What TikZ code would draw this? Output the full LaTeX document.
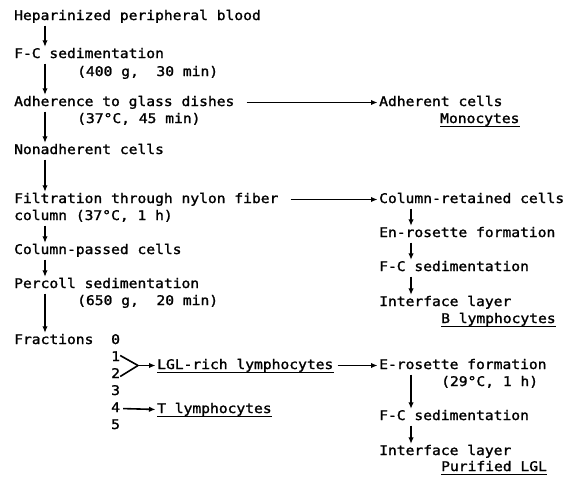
\documentclass[tikz,border=0pt]{standalone}
\usepackage{fontspec}
\newfontfamily\labfont[FakeStretch=1.1,FakeBold=1.5]{DejaVu Sans Mono}
\usetikzlibrary{arrows.meta}
\tikzset{
    % one line of text, placed on its baseline
    steptext/.style={
        inner sep=0pt,
        anchor=base west,
        text height=9.5pt,
        text depth=2.5pt,
        font=\labfont\fontsize{13.3}{15}\selectfont
    },
    % arrow styles
    flowarrow/.style={
        -{Latex[length=6.5pt,width=5.5pt]},
        line width=1.6pt,
        shorten <=3pt,
        shorten >=1.5pt
    },
    joinline/.style={
        line width=1.6pt
    },
    uline/.style={
        line width=1.6pt
    }
}

\begin{document}
\begin{tikzpicture}[x=1pt,y=-1pt]
    \useasboundingbox (0,0) rectangle (565,479);

    % Main line of the separation
    \node[steptext] (blood) at (14,20) {Heparinized peripheral blood};
    \node[steptext] (fcsedA) at (14,58) {F-C sedimentation};
    \node[steptext] (fcsedAcond) at (77,76) {(400 g,\ \ 30 min)};
    \node[steptext] (adhere) at (14,106) {Adherence to glass dishes};
    \node[steptext] (adhcond) at (77,123) {(37°C, 45 min)};
    \node[steptext] (nonadh) at (14,154) {Nonadherent cells};
    \node[steptext] (filt) at (14,203) {Filtration through nylon fiber};
    \node[steptext] (filtcond) at (14,220) {column (37°C, 1 h)};
    \node[steptext] (passed) at (14,254) {Column-passed cells};
    \node[steptext] (percoll) at (14,288) {Percoll sedimentation};
    \node[steptext] (percond) at (77,305) {(650 g,\ \ 20 min)};
    \node[steptext] (fract) at (14,344) {Fractions};

    % Fraction numbers
    \foreach \i/\y in {0/344,1/361,2/378,3/395,4/412,5/429}
        \node[steptext] (f\i) at (111,\y) {\i};

    \node[steptext] (lglrich) at (157,369) {LGL-rich lymphocytes};
    \node[steptext] (tlym) at (157,413) {T lymphocytes};

    % Right column
    \node[steptext] (adherent) at (379,106) {Adherent cells};
    \node[steptext] (mono) at (440,123) {Monocytes};
    \node[steptext] (retained) at (379,203) {Column-retained cells};
    \node[steptext] (enros) at (379,237) {En-rosette formation};
    \node[steptext] (fcsedB) at (379,271) {F-C sedimentation};
    \node[steptext] (ifaceB) at (379,306) {Interface layer};
    \node[steptext] (blym) at (441,323) {B lymphocytes};
    \node[steptext] (eros) at (379,369) {E-rosette formation};
    \node[steptext] (eroscond) at (441,386) {(29°C, 1 h)};
    \node[steptext] (fcsedC) at (379,420) {F-C sedimentation};
    \node[steptext] (ifaceC) at (379,455) {Interface layer};
    \node[steptext] (purified) at (441,471) {Purified LGL};

    % Underlined results
    \foreach \n in {mono,blym,lglrich,tlym,purified}
        \draw[uline] ([yshift=-3.5pt]\n.base west) -- ([yshift=-3.5pt]\n.base east);

    % Vertical arrows, left
    \draw[flowarrow] ([xshift=31pt]blood.south west) -- ([xshift=31pt]fcsedA.north west);
    \draw[flowarrow] ([xshift=31pt]fcsedA.south west) -- ([xshift=31pt]adhere.north west);
    \draw[flowarrow] ([xshift=31pt]adhere.south west) -- ([xshift=31pt]nonadh.north west);
    \draw[flowarrow] ([xshift=31pt]nonadh.south west) -- ([xshift=31pt]filt.north west);
    \draw[flowarrow] ([xshift=31pt]filtcond.south west) -- ([xshift=31pt]passed.north west);
    \draw[flowarrow] ([xshift=31pt]passed.south west) -- ([xshift=31pt]percoll.north west);
    \draw[flowarrow] ([xshift=31pt]percoll.south west) -- ([xshift=31pt]fract.north west);

    % Vertical arrows, right
    \draw[flowarrow] ([xshift=32pt]retained.south west) -- ([xshift=32pt]enros.north west);
    \draw[flowarrow] ([xshift=32pt]enros.south west) -- ([xshift=32pt]fcsedB.north west);
    \draw[flowarrow] ([xshift=32pt]fcsedB.south west) -- ([xshift=32pt]ifaceB.north west);
    \draw[flowarrow] ([xshift=32pt]eros.south west) -- ([xshift=32pt]fcsedC.north west);
    \draw[flowarrow] ([xshift=32pt]fcsedC.south west) -- ([xshift=32pt]ifaceC.north west);

    % Horizontal arrows
    \draw[flowarrow] ([xshift=9pt]adhere.east) -- (adhere.east -| adherent.west);
    \draw[flowarrow] ([xshift=9pt]filt.east) -- (filt.east -| retained.west);
    \draw[flowarrow] ([xshift=1pt]lglrich.east) -- (lglrich.east -| eros.west);
    \draw[flowarrow] (f4.east) -- (tlym.west);

    % Fractions 1 and 2 pooled
    \coordinate (pool) at (138,365.5);
    \draw[joinline] ([yshift=2pt]f1.east) -- (pool);
    \draw[joinline] ([yshift=-2pt]f2.east) -- (pool);
    \draw[flowarrow,shorten <=0pt] (pool) -- (pool -| lglrich.west);
\end{tikzpicture}
\end{document}
